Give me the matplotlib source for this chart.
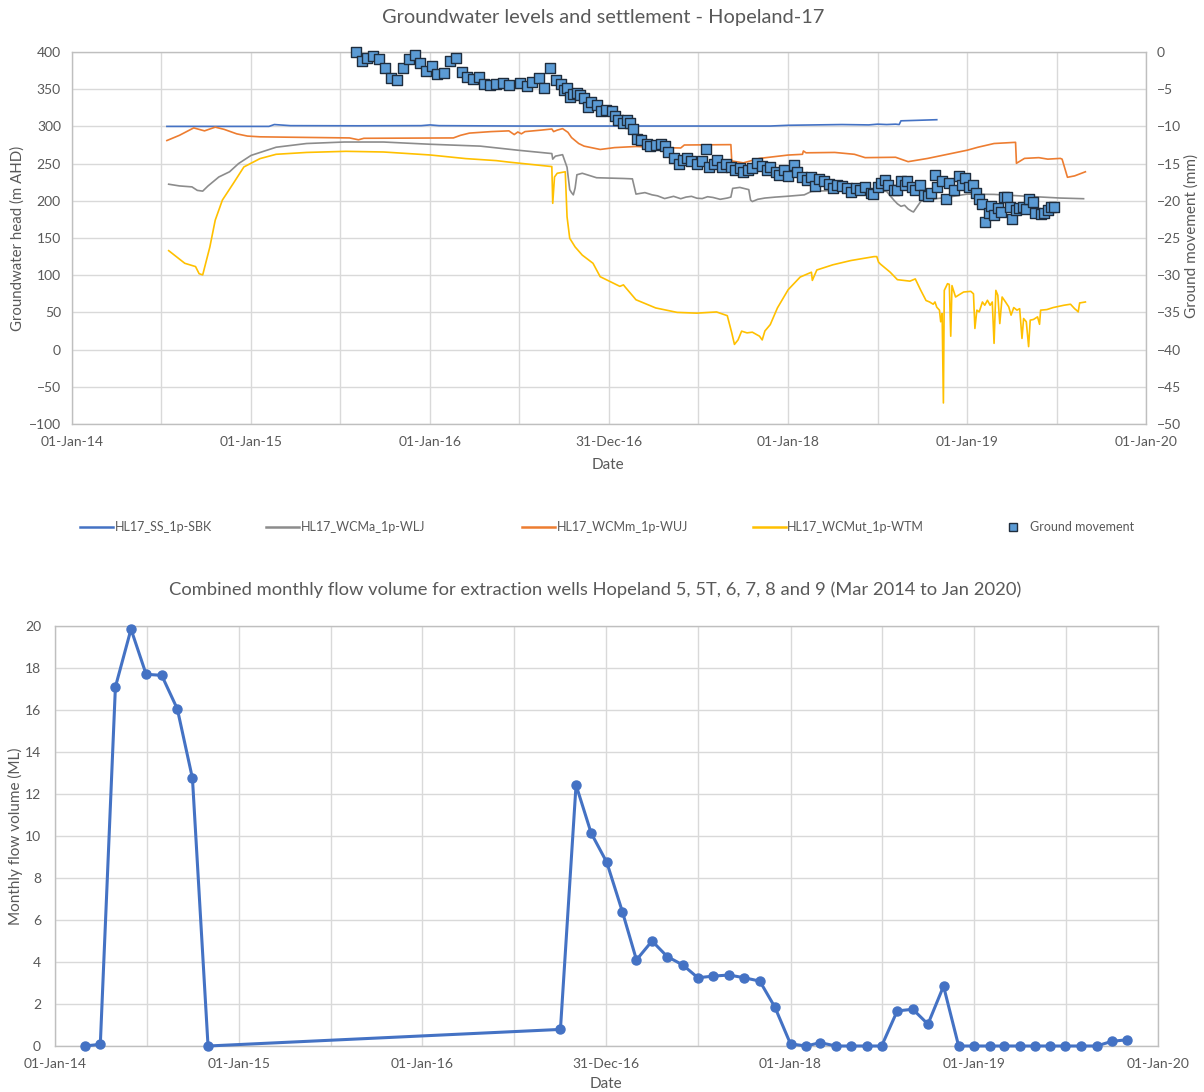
import numpy as np
import pandas as pd
import matplotlib
matplotlib.use("Agg")
import matplotlib.pyplot as plt
import matplotlib.dates as mdates
from matplotlib.lines import Line2D

plt.rcParams['font.family'] = ['Lato', 'DejaVu Sans']

# groundwater heads, decimal year vs m AHD
ss_year = [2014.53, 2015.10, 2015.13, 2015.16, 2015.22, 2015.6, 2015.95, 2016.0, 2016.05,
           2016.5, 2017.0, 2017.5, 2017.9, 2018.0, 2018.3, 2018.45, 2018.5, 2018.55, 2018.6,
           2018.62, 2018.63, 2018.70, 2018.83]
ss_head = [300, 300, 302.5, 302, 301, 300.8, 301, 302, 301,
           300.5, 300.5, 300.5, 300.5, 301.5, 302.5, 302, 303, 302.5, 303,
           302.5, 307.5, 308, 309]

wcma_year = [2014.54, 2014.60, 2014.67, 2014.70, 2014.73, 2014.76, 2014.82, 2014.88, 2014.93,
             2015.0, 2015.14, 2015.31, 2015.52, 2015.74, 2016.0, 2016.28, 2016.49, 2016.68,
             2016.685, 2016.70, 2016.74, 2016.765, 2016.78, 2016.79, 2016.80, 2016.81, 2016.82,
             2016.85, 2016.93, 2017.08, 2017.13, 2017.15, 2017.20, 2017.24, 2017.27, 2017.31,
             2017.36, 2017.40, 2017.43, 2017.46, 2017.49, 2017.52, 2017.55, 2017.58, 2017.62,
             2017.66, 2017.68, 2017.69, 2017.73, 2017.78, 2017.79, 2017.80, 2017.83, 2017.87,
             2017.93, 2017.99, 2018.09, 2018.13, 2018.26, 2018.40, 2018.50, 2018.55, 2018.59,
             2018.61, 2018.63, 2018.65, 2018.67, 2018.69, 2018.70, 2018.72, 2018.74, 2018.76,
             2018.87, 2019.0, 2019.15, 2019.34, 2019.52, 2019.65]
wcma_head = [222.3, 220, 218.7, 214, 213, 220, 232, 239, 250,
             261, 272, 277, 279, 279, 276, 273.5, 268, 263.5,
             256, 260, 262, 245, 215, 211, 208, 217, 235,
             237, 231, 230, 229.5, 209, 211, 208, 206.7, 203,
             206, 202.8, 205, 206, 203.5, 203, 205.5, 204.5, 202,
             203.7, 205, 216.7, 218, 215, 201, 199, 202, 203.7,
             205, 206, 208, 212.6, 214, 215, 214, 212.6, 201,
             196, 192.6, 194, 189, 186, 185, 192, 199, 201,
             204, 209, 208.6, 206, 203.7, 202.8]

wcmm_year = [2014.53, 2014.60, 2014.68, 2014.74, 2014.80, 2014.85, 2014.92, 2014.98, 2015.05,
             2015.2, 2015.55, 2015.60, 2015.63, 2016.13, 2016.17, 2016.22, 2016.34, 2016.44,
             2016.47, 2016.49, 2016.51, 2016.53, 2016.62, 2016.68, 2016.69, 2016.71, 2016.74,
             2016.77, 2016.79, 2016.83, 2016.86, 2016.95, 2017.03, 2017.15, 2017.29, 2017.40,
             2017.42, 2017.68, 2017.685, 2017.75, 2017.84, 2018.0, 2018.08, 2018.085, 2018.10,
             2018.26, 2018.37, 2018.43, 2018.60, 2018.67, 2018.78, 2018.90, 2019.0, 2019.06,
             2019.15, 2019.27, 2019.275, 2019.32, 2019.40, 2019.45, 2019.52, 2019.53, 2019.56,
             2019.60, 2019.66]
wcmm_head = [281, 288, 298, 294, 299, 296, 290, 287, 286,
             285.5, 284.5, 282, 284, 284.5, 288, 291, 293, 294,
             289, 292.5, 290, 293, 295, 296.5, 293, 295, 297,
             292, 285, 277, 273.5, 269, 271.5, 273, 271.5, 271,
             275, 275.5, 253.5, 251, 257, 261.5, 262.5, 267, 264.5,
             265, 262.5, 258, 258.5, 252.6, 257, 263, 268, 272,
             277, 278.6, 250.4, 257, 258, 256, 257, 256, 231.6,
             233.5, 239]

wcmut_year = [2014.54, 2014.63, 2014.69, 2014.71, 2014.73, 2014.77, 2014.80, 2014.84, 2014.90,
              2014.96, 2015.05, 2015.14, 2015.31, 2015.53, 2015.74, 2016.0, 2016.2, 2016.37,
              2016.44, 2016.68, 2016.685, 2016.695, 2016.71, 2016.755, 2016.765, 2016.78, 2016.81,
              2016.85, 2016.91, 2016.95, 2017.06, 2017.08, 2017.09, 2017.15, 2017.26, 2017.38,
              2017.49, 2017.60, 2017.66, 2017.685, 2017.70, 2017.72, 2017.74, 2017.77, 2017.80,
              2017.84, 2017.855, 2017.87, 2017.90, 2017.94, 2018.0, 2018.067, 2018.13, 2018.135,
              2018.16, 2018.25, 2018.35, 2018.48, 2018.495, 2018.505, 2018.515, 2018.57, 2018.61,
              2018.68, 2018.71, 2018.74, 2018.77, 2018.79, 2018.81, 2018.82, 2018.83, 2018.845,
              2018.852, 2018.86, 2018.867, 2018.872, 2018.89, 2018.90, 2018.908, 2018.915, 2018.935,
              2018.95, 2018.98, 2019.02, 2019.035, 2019.043, 2019.054, 2019.067, 2019.085, 2019.098,
              2019.113, 2019.128, 2019.14, 2019.15, 2019.16, 2019.171, 2019.182, 2019.195, 2019.214,
              2019.232, 2019.245, 2019.26, 2019.278, 2019.293, 2019.306, 2019.315, 2019.33, 2019.343,
              2019.352, 2019.37, 2019.393, 2019.404, 2019.41, 2019.445, 2019.48, 2019.54, 2019.577,
              2019.60, 2019.61, 2019.62, 2019.628, 2019.66]
wcmut_head = [133, 116, 111.6, 102, 100.4, 138, 174, 201, 223,
              245.5, 256.7, 262.5, 265, 266.5, 265.6, 261.6, 256.7, 254,
              252, 246, 196.6, 232, 237, 239, 178.6, 149.6, 138,
              127, 116, 98, 85, 87, 84, 67, 56, 50,
              49, 50.6, 45.6, 22.5, 7, 13, 24.8, 22.5, 23.4,
              18, 13, 25, 33.6, 56, 80.5, 97.5, 104, 93,
              107, 114, 119.7, 125, 125, 117.5, 115, 104, 94,
              92, 95, 80, 66, 64, 61, 64, 57, 53,
              37.4, 48.5, -71.7, 79.6, 88.6, 87.7, 18, 86, 70.7,
              73, 77.4, 78.3, 75, 28.4, 53, 50.7, 64, 59.6,
              66.3, 59.6, 64, 8.4, 79.6, 73, 35, 70.7, 64,
              57.4, 46.3, 56.5, 53, 55, 15, 41.8, 37.4, 4,
              39.6, 40.5, 44, 34, 53, 53.8, 56.5, 59.6, 61,
              55, 53, 50.7, 62.7, 64]

# ground movement survey, decimal year vs mm
gm_year = [2015.586, 2015.618, 2015.65, 2015.68, 2015.716, 2015.75, 2015.78, 2015.817, 2015.85,
           2015.88, 2015.916, 2015.944, 2015.978, 2016.01, 2016.04, 2016.08, 2016.11, 2016.146,
           2016.18, 2016.205, 2016.24, 2016.276, 2016.30, 2016.336, 2016.37, 2016.405, 2016.44,
           2016.50, 2016.54, 2016.57, 2016.606, 2016.638, 2016.668, 2016.705, 2016.73, 2016.746,
           2016.765, 2016.78, 2016.80, 2016.82, 2016.84, 2016.86, 2016.88, 2016.90, 2016.93,
           2016.955, 2016.98, 2017.017, 2017.035, 2017.05, 2017.077, 2017.10, 2017.115, 2017.135,
           2017.155, 2017.18, 2017.21, 2017.23, 2017.26, 2017.29, 2017.31, 2017.33, 2017.36,
           2017.39, 2017.41, 2017.435, 2017.46, 2017.49, 2017.52, 2017.54, 2017.56, 2017.585,
           2017.605, 2017.63, 2017.655, 2017.68, 2017.705, 2017.73, 2017.75, 2017.775, 2017.80,
           2017.827, 2017.855, 2017.88, 2017.90, 2017.93, 2017.95, 2017.975, 2018.0, 2018.03,
           2018.05, 2018.08, 2018.105, 2018.13, 2018.15, 2018.17, 2018.20, 2018.23, 2018.25,
           2018.27, 2018.30, 2018.33, 2018.35, 2018.38, 2018.40, 2018.43, 2018.46, 2018.475,
           2018.50, 2018.52, 2018.54, 2018.56, 2018.59, 2018.61, 2018.63, 2018.65, 2018.665,
           2018.69, 2018.71, 2018.735, 2018.76, 2018.78, 2018.80, 2018.82, 2018.83, 2018.86,
           2018.88, 2018.90, 2018.925, 2018.955, 2018.97, 2018.985, 2019.01, 2019.035, 2019.05,
           2019.066, 2019.085, 2019.10, 2019.12, 2019.135, 2019.15, 2019.17, 2019.19, 2019.205,
           2019.225, 2019.24, 2019.25, 2019.27, 2019.29, 2019.31, 2019.33, 2019.345, 2019.365,
           2019.38, 2019.41, 2019.43, 2019.45, 2019.47, 2019.485]
gm_mm = [0.0, -1.2, -0.85, -0.5, -1.0, -2.2, -3.5, -3.8, -2.1,
         -1.0, -0.4, -1.5, -2.5, -1.9, -3.0, -2.8, -1.2, -0.8,
         -2.7, -3.3, -3.6, -3.4, -4.3, -4.5, -4.3, -4.2, -4.4,
         -4.1, -4.6, -4.0, -3.5, -4.9, -2.2, -3.7, -4.3, -5.1,
         -4.8, -6.1, -5.6, -5.5, -5.8, -6.2, -7.4, -6.7, -7.1,
         -7.9, -7.8, -7.9, -8.6, -9.1, -9.5, -9.2, -9.6, -10.3,
         -11.7, -11.8, -12.3, -12.6, -12.5, -12.4, -12.7, -13.4, -14.3,
         -15.1, -14.5, -14.2, -14.7, -15.0, -14.7, -13.1, -15.4, -15.1,
         -14.5, -15.4, -15.1, -15.4, -15.9, -15.6, -16.1, -15.9, -15.6,
         -14.9, -15.3, -15.9, -15.4, -16.1, -16.5, -15.9, -16.7, -15.2,
         -16.1, -16.8, -17.2, -16.8, -18.0, -17.1, -17.4, -17.7, -18.3,
         -17.9, -18.0, -18.3, -18.8, -18.3, -18.5, -18.2, -19.0, -19.1,
         -18.2, -17.6, -17.2, -17.9, -18.5, -18.6, -17.4, -17.9, -17.3,
         -18.2, -18.5, -17.9, -19.2, -19.4, -18.9, -16.5, -18.1, -17.4,
         -19.7, -17.6, -18.6, -16.7, -17.9, -17.0, -18.2, -17.9, -19.0,
         -19.8, -20.4, -22.8, -21.7, -20.7, -21.9, -21.0, -21.5, -19.5,
         -19.5, -20.9, -22.5, -21.2, -21.0, -20.8, -21.1, -19.8, -20.1,
         -21.7, -21.8, -21.7, -21.2, -20.9, -20.8]

# combined monthly extraction volumes (ML)
flow_month = ['2014-03', '2014-04', '2014-05', '2014-06', '2014-07', '2014-08', '2014-09',
              '2014-10', '2014-11',
              '2016-10', '2016-11', '2016-12', '2017-01', '2017-02', '2017-03', '2017-04',
              '2017-05', '2017-06', '2017-07', '2017-08', '2017-09', '2017-10', '2017-11',
              '2017-12', '2018-01', '2018-02', '2018-03', '2018-04', '2018-05', '2018-06',
              '2018-07', '2018-08', '2018-09', '2018-10', '2018-11', '2018-12', '2019-01',
              '2019-02', '2019-03', '2019-04', '2019-05', '2019-06', '2019-07', '2019-08',
              '2019-09', '2019-10', '2019-11']
flow_ml = [0, 0.08, 17.1, 19.85, 17.7, 17.65, 16.05, 12.75, 0,
           0.79, 12.43, 10.14, 8.75, 6.4, 4.1, 5.0, 4.26,
           3.86, 3.25, 3.33, 3.38, 3.25, 3.09, 1.85,
           0.1, 0, 0.16, 0, 0, 0, 0,
           1.67, 1.75, 1.04, 2.85, 0, 0, 0,
           0, 0, 0, 0, 0, 0, 0,
           0.22, 0.3]

tick_dates = ['2014-01-01', '2015-01-01', '2016-01-01', '2016-12-31',
              '2018-01-01', '2019-01-01', '2020-01-01']

TXT = '#595959'
GRID = '#D9D9D9'


def to_dates(years):
    base = pd.Timestamp('2014-01-01')
    return [base + pd.Timedelta(days=(y - 2014) * 365.25) for y in years]


def style_axes(ax):
    ticks = pd.to_datetime(tick_dates)
    ax.set_xlim(ticks[0], ticks[-1])
    ax.set_xticks(ticks)
    ax.xaxis.set_major_formatter(mdates.DateFormatter('%d-%b-%y'))
    mids = [ticks[i] + (ticks[i + 1] - ticks[i]) / 2 for i in range(len(ticks) - 1)]
    ax.set_xticks(mids, minor=True)
    ax.grid(True, which='both', axis='x', color=GRID, lw=1)
    ax.grid(True, which='major', axis='y', color=GRID, lw=1)
    ax.set_axisbelow(True)
    ax.tick_params(which='both', length=0, colors=TXT, labelsize=10)
    for s in ax.spines.values():
        s.set_color('#BFBFBF')
        s.set_linewidth(1)


fig = plt.figure(figsize=(12.04, 10.92), dpi=100)
W, H = 1204, 1092

# ---- groundwater levels and settlement ----
ax = fig.add_axes([72 / W, 1 - 424 / H, (1146 - 72) / W, (424 - 52) / H])
style_axes(ax)
ax.set_ylim(-100, 400)
ax.set_yticks(np.arange(-100, 401, 50))
ax.tick_params(axis='x', pad=9)
ax.tick_params(axis='y', pad=8)

series = [
    (ss_year, ss_head, '#4472C4', 'HL17_SS_1p-SBK'),
    (wcma_year, wcma_head, '#8C8C8C', 'HL17_WCMa_1p-WLJ'),
    (wcmm_year, wcmm_head, '#ED7D31', 'HL17_WCMm_1p-WUJ'),
    (wcmut_year, wcmut_head, '#FFC000', 'HL17_WCMut_1p-WTM'),
]
handles = []
for yrs, vals, col, name in series:
    ln, = ax.plot(to_dates(yrs), vals, color=col, lw=1.2, label=name)
    handles.append(Line2D([], [], color=col, lw=1.8, label=name))

ax2 = ax.twinx()
ax2.set_ylim(-50, 0)
ax2.set_yticks(np.arange(-50, 1, 5))
ax2.tick_params(length=0, colors=TXT, labelsize=10, pad=8)
for s in ax2.spines.values():
    s.set_visible(False)
ax2.scatter(to_dates(gm_year), gm_mm, marker='s', s=42, color='#5B9BD5',
            edgecolor='#1F2D3D', linewidth=1.0, zorder=5, clip_on=False)
handles.append(Line2D([], [], marker='s', ls='none', ms=6, color='#5B9BD5',
                      markeredgecolor='#1F2D3D', label='Ground movement'))

fig.text(603 / W, 1 - 18 / H, 'Groundwater levels and settlement - Hopeland-17',
         ha='center', va='center', fontsize=14.4, color=TXT)
fig.text(608 / W, 1 - 465 / H, 'Date', ha='center', va='center', fontsize=11, color=TXT)
fig.text(18 / W, 1 - 238 / H, 'Groundwater head (m AHD)', rotation=90,
         ha='center', va='center', fontsize=10.8, color=TXT)
fig.text(1192 / W, 1 - 236 / H, 'Ground movement (mm)', rotation=90,
         ha='center', va='center', fontsize=11, color=TXT)

# legend entries placed one by one along the strip under the top chart
legend_x = [80, 266, 522, 753, 1007]
for h, x0 in zip(handles, legend_x):
    hl = 1.0 if h.get_label() == 'Ground movement' else 2.6
    fig.legend(handles=[h], loc='center left', bbox_to_anchor=(x0 / W, 1 - 527 / H),
               frameon=False, fontsize=9, labelcolor=TXT, handlelength=hl,
               handletextpad=0.15 if hl > 2 else 0.8, borderpad=0, borderaxespad=0)

# ---- monthly flow volume ----
bx = fig.add_axes([55 / W, 1 - 1046 / H, (1158 - 55) / W, (1046 - 626) / H])
style_axes(bx)
bx.set_ylim(0, 20)
bx.set_yticks(np.arange(0, 21, 2))
bx.tick_params(axis='x', pad=9)
bx.tick_params(axis='y', pad=10)
bx.plot(pd.to_datetime(flow_month), flow_ml, color='#4472C4', lw=2.2, marker='o', ms=6.5,
        clip_on=False, zorder=4)

fig.text(595 / W, 1 - 590 / H,
         'Combined monthly flow volume for extraction wells Hopeland 5, 5T, 6, 7, 8 and 9 (Mar 2014 to Jan 2020)',
         ha='center', va='center', fontsize=13.2, color=TXT)
fig.text(606 / W, 1 - 1084 / H, 'Date', ha='center', va='center', fontsize=11, color=TXT)
fig.text(15 / W, 1 - 836 / H, 'Monthly flow volume (ML)', rotation=90,
         ha='center', va='center', fontsize=11, color=TXT)

fig.savefig('out.png', dpi=100)
